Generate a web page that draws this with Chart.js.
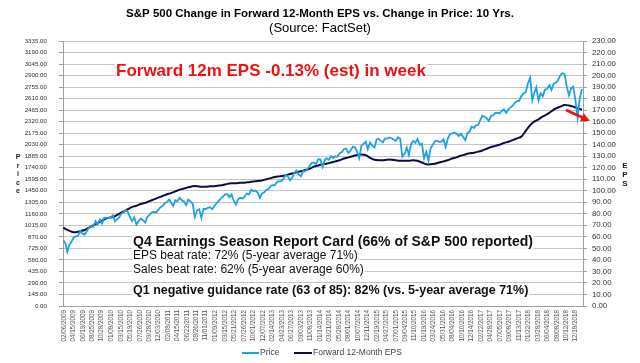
<!DOCTYPE html>
<html>
<head>
<meta charset="utf-8">
<script src="https://cdn.jsdelivr.net/npm/chart.js@4.4.1/dist/chart.umd.min.js"></script>
<style>
  body { margin: 0; background: #fff; }
  canvas { display: block; }
</style>
</head>
<body>
<canvas id="chart-eps" width="640" height="363"></canvas>
<script>
// x-axis labels as printed under the chart (every ~46 trading days)
const tickLabels = [
  '02/06/2009', '04/15/2009', '06/19/2009', '08/25/2009', '10/28/2009',
  '01/08/2010', '03/15/2010', '05/19/2010', '07/26/2010', '09/28/2010', '12/03/2010',
  '02/08/2011', '04/15/2011', '06/22/2011', '08/26/2011', '11/01/2011',
  '01/09/2012', '03/15/2012', '05/21/2012', '07/26/2012', '10/01/2012', '12/07/2012',
  '02/14/2013', '04/23/2013', '06/27/2013', '09/03/2013', '11/08/2013',
  '01/14/2014', '03/21/2014', '05/28/2014', '08/01/2014', '10/07/2014', '12/11/2014',
  '02/19/2015', '04/27/2015', '07/01/2015', '09/04/2015', '11/10/2015',
  '01/19/2016', '03/24/2016', '05/31/2016', '08/04/2016', '10/10/2016', '12/14/2016',
  '02/22/2017', '04/28/2017', '07/05/2017', '09/08/2017', '11/13/2017',
  '01/22/2018', '03/28/2018', '06/04/2018', '08/08/2018', '10/12/2018', '12/18/2018',
];

// S&P 500 price, two readings a month (1st, 16th) from Feb 2009
const priceValues = [
  826, 790, 683, 768, 811, 865, 877, 883, 942, 911, 896, 940, 987, 1004, 998, 1068, 1029, 1087, 1036, 1110, 1108, 1110,
  1115, 1140, 1066, 1094, 1115, 1160, 1178, 1205, 1187, 1120, 1070, 1115, 1027, 1065, 1102, 1080, 1050, 1124, 1146, 1176, 1185, 1178, 1206, 1243,
  1258, 1293, 1307, 1340, 1306, 1257, 1332, 1320, 1361, 1330, 1315, 1268, 1340, 1316, 1287, 1120, 1204, 1216, 1110, 1224, 1218, 1236, 1244, 1220,
  1258, 1293, 1324, 1358, 1374, 1404, 1408, 1370, 1405, 1325, 1278, 1342, 1362, 1353, 1375, 1415, 1406, 1465, 1444, 1454, 1428, 1360, 1416, 1430,
  1462, 1472, 1513, 1520, 1518, 1560, 1570, 1574, 1597, 1650, 1631, 1580, 1614, 1676, 1706, 1655, 1633, 1698, 1695, 1721, 1762, 1798, 1806, 1786,
  1848, 1845, 1750, 1839, 1859, 1841, 1886, 1862, 1884, 1878, 1924, 1937, 1973, 1981, 1925, 1955, 2003, 1998, 1946, 1862, 2018, 2039, 2067, 1972,
  2058, 2019, 1995, 2096, 2105, 2081, 2060, 2106, 2108, 2122, 2111, 2096, 2077, 2124, 2104, 1880, 1914, 1995, 1900, 2033, 2079, 2053, 2102, 2030,
  2044, 1860, 1940, 1830, 1978, 2027, 2072, 2081, 2065, 2066, 2099, 2000, 2103, 2162, 2173, 2180, 2170, 2139, 2168, 2133, 2085, 2176, 2191, 2258,
  2239, 2275, 2279, 2347, 2395, 2381, 2363, 2329, 2388, 2400, 2430, 2433, 2423, 2459, 2476, 2430, 2476, 2500, 2519, 2557, 2579, 2585, 2642, 2675,
  2690, 2800, 2870, 2590, 2678, 2752, 2585, 2677, 2640, 2722, 2734, 2779, 2718, 2798, 2813, 2840, 2901, 2930, 2924, 2770, 2650, 2736, 2760, 2600,
  2370, 2616, 2730,
];

// Forward 12-month EPS, monthly from Feb 2009
const epsValues = [
  68, 66, 64.5, 64, 65, 66, 68, 70, 72, 74, 76,
  77, 78, 80, 82, 84, 86, 87, 88.5, 89.5, 91, 92.5, 94,
  95.5, 97, 98, 99.5, 101, 102, 103, 104, 104, 103.5, 103.5, 104,
  104, 104.5, 105, 106, 106.5, 106.5, 107, 107, 107.5, 108, 108.5, 109,
  110, 111, 112, 112.5, 113, 114, 115, 116, 117, 118, 119, 121,
  122, 123, 123.5, 124.5, 125.5, 126.5, 128, 129, 130, 131, 131.5, 131,
  128.5, 127, 126.5, 126.5, 127, 127, 126.5, 126, 126, 126, 126.5, 126,
  124.5, 123, 123, 123.5, 124.5, 125.5, 126.5, 128, 129, 130.5, 131.5, 132.5,
  133, 134, 135, 136.5, 138, 139, 140, 141.5, 142.5, 144, 145.5, 147,
  152, 157, 160, 162, 164.5, 166.5, 169, 171.5, 173, 174.5, 174, 173,
  171.5, 170.5,
];

const titleText = 'S&P 500 Change in Forward 12-Month EPS vs. Change in Price: 10 Yrs.';
const subtitleText = '(Source: FactSet)';
const weekNote = 'Forward 12m EPS -0.13% (est) in week';
const reportLines = [
  'Q4 Earnings Season Report Card (66% of S&P 500 reported)',
  'EPS beat rate: 72% (5-year average 71%)',
  'Sales beat rate: 62% (5-year average 60%)',
  'Q1 negative guidance rate (63 of 85): 82% (vs. 5-year average 71%)',
];

const FONT = '"Liberation Sans", Arial, sans-serif';
const PRICE_COLOR = '#1ea0e4';
const EPS_COLOR = '#0b0b45';

const parseUS = (s) => {
  const [m, d, y] = s.split('/').map(Number);
  return Date.UTC(y, m - 1, d);
};
const tickValues = tickLabels.map(parseUS);

const priceData = priceValues.map((v, i) => ({
  x: Date.UTC(2009, 1 + Math.floor(i / 2), i % 2 ? 16 : 1),
  y: v,
}));
const epsData = epsValues.map((v, i) => ({ x: Date.UTC(2009, 1 + i, 1), y: v }));

const boxText = (c, text, x, y, font, size, color) => {
  c.font = font;
  const w = c.measureText(text).width;
  c.fillStyle = '#fff';
  c.fillRect(x - 1, y - size * 0.85, w + 2, size * 1.05);
  c.fillStyle = color;
  c.fillText(text, x, y);
};

const overlay = {
  id: 'overlay',
  afterDraw(chart) {
    const c = chart.ctx;
    c.save();
    c.textBaseline = 'alphabetic';

    c.textAlign = 'center';
    c.fillStyle = '#000';
    c.font = `bold 11.5px ${FONT}`;
    c.fillText(titleText, 320, 17);
    c.font = `13px ${FONT}`;
    c.fillText(subtitleText, 320, 32);

    // stacked axis titles
    c.font = `bold 7px ${FONT}`;
    c.fillStyle = '#222';
    ['P', 'r', 'i', 'c', 'e'].forEach((ch, i) => c.fillText(ch, 18, 159 + i * 8.5));
    c.font = `bold 8px ${FONT}`;
    ['E', 'P', 'S'].forEach((ch, i) => c.fillText(ch, 625, 168 + i * 9));

    c.textAlign = 'left';
    boxText(c, weekNote, 116, 76, `bold 17px ${FONT}`, 17, '#ee1111');
    boxText(c, reportLines[0], 133, 246, `bold 14px ${FONT}`, 14, '#111');
    boxText(c, reportLines[1], 133, 259, `12px ${FONT}`, 12, '#111');
    boxText(c, reportLines[2], 133, 273, `12px ${FONT}`, 12, '#111');
    boxText(c, reportLines[3], 133, 294, `bold 12.5px ${FONT}`, 12.5, '#111');

    // red arrow
    const x0 = 566, y0 = 110, x1 = 590, y1 = 121;
    const ang = Math.atan2(y1 - y0, x1 - x0);
    c.strokeStyle = '#ee1111';
    c.fillStyle = '#ee1111';
    c.lineWidth = 2.5;
    c.beginPath();
    c.moveTo(x0, y0);
    c.lineTo(x1 - 6 * Math.cos(ang), y1 - 6 * Math.sin(ang));
    c.stroke();
    c.beginPath();
    c.moveTo(x1, y1);
    c.lineTo(x1 - 9 * Math.cos(ang) + 4.5 * Math.sin(ang), y1 - 9 * Math.sin(ang) - 4.5 * Math.cos(ang));
    c.lineTo(x1 - 9 * Math.cos(ang) - 4.5 * Math.sin(ang), y1 - 9 * Math.sin(ang) + 4.5 * Math.cos(ang));
    c.closePath();
    c.fill();

    // legend
    c.font = `8.5px ${FONT}`;
    c.fillStyle = '#444';
    c.textBaseline = 'middle';
    c.lineWidth = 2;
    c.strokeStyle = PRICE_COLOR;
    c.beginPath(); c.moveTo(242, 353); c.lineTo(259, 353); c.stroke();
    c.fillText('Price', 260, 353);
    c.strokeStyle = EPS_COLOR;
    c.beginPath(); c.moveTo(294, 353); c.lineTo(312, 353); c.stroke();
    c.fillText('Forward 12-Month EPS', 313, 353);
    c.restore();
  },
};

new Chart(document.getElementById('chart-eps'), {
  type: 'line',
  data: {
    datasets: [
      {
        label: 'Price',
        data: priceData,
        yAxisID: 'y',
        borderColor: PRICE_COLOR,
        borderWidth: 1.8,
        pointRadius: 0,
        tension: 0,
      },
      {
        label: 'Forward 12-Month EPS',
        data: epsData,
        yAxisID: 'y1',
        borderColor: EPS_COLOR,
        borderWidth: 2,
        pointRadius: 0,
        tension: 0.3,
      },
    ],
  },
  options: {
    responsive: false,
    animation: false,
    devicePixelRatio: 1,
    layout: { padding: { top: 41, bottom: 0, left: 0, right: 0 } },
    plugins: { legend: { display: false }, tooltip: { enabled: false }, title: { display: false } },
    scales: {
      x: {
        type: 'linear',
        min: Date.UTC(2009, 0, 30),
        max: Date.UTC(2019, 1, 8),
        afterBuildTicks: (axis) => { axis.ticks = tickValues.map((value) => ({ value })); },
        afterFit: (axis) => { axis.height = 57; },
        grid: { display: false, drawTicks: false },
        border: { display: true, color: '#a0a0a0' },
        ticks: {
          autoSkip: false,
          minRotation: 90,
          maxRotation: 90,
          padding: 4,
          color: '#555',
          font: { family: FONT, size: 6.3 },
          callback: (value, index) => tickLabels[index],
        },
      },
      y: {
        position: 'left',
        min: 0,
        max: 3335,
        afterBuildTicks: (axis) => {
          axis.ticks = Array.from({ length: 24 }, (_, i) => ({ value: i * 145 }));
        },
        afterFit: (axis) => { axis.width = 63; },
        grid: { color: '#c4c4c4', tickLength: 4, tickColor: '#a0a0a0' },
        border: { color: '#a0a0a0' },
        ticks: {
          autoSkip: false,
          padding: 12,
          color: '#333',
          font: { family: FONT, size: 6.2 },
          callback: (value) => Number(value).toFixed(2),
        },
      },
      y1: {
        position: 'right',
        min: 0,
        max: 230,
        afterBuildTicks: (axis) => {
          axis.ticks = Array.from({ length: 24 }, (_, i) => ({ value: i * 10 }));
        },
        afterFit: (axis) => { axis.width = 57; },
        grid: { drawOnChartArea: false, tickLength: 4, color: '#a0a0a0' },
        border: { color: '#a0a0a0' },
        ticks: {
          autoSkip: false,
          padding: 5,
          color: '#333',
          font: { family: FONT, size: 7.8 },
          callback: (value) => Number(value).toFixed(2),
        },
      },
    },
  },
  plugins: [overlay],
});
</script>
</body>
</html>
